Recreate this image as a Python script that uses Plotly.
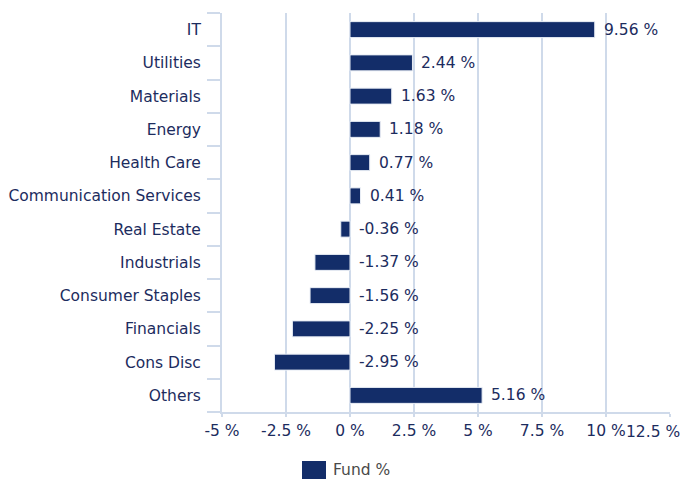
import plotly.graph_objects as go

categories = ["IT", "Utilities", "Materials", "Energy", "Health Care",
              "Communication Services", "Real Estate", "Industrials",
              "Consumer Staples", "Financials", "Cons Disc", "Others"]
fund_pct = [9.56, 2.44, 1.63, 1.18, 0.77, 0.41, -0.36, -1.37, -1.56, -2.25, -2.95, 5.16]
x_tick_vals = [-5, -2.5, 0, 2.5, 5, 7.5, 10, 12.5]
x_tick_text = ["-5 %", "-2.5 %", "0 %", "2.5 %", "5 %", "7.5 %", "10 %", "12.5 %"]
series_name = "Fund %"

BAR = "#132d69"
TXT = "#1c2c5e"
GRID = "#cfdaea"
FONT = "DejaVu Sans, Verdana, sans-serif"
FS = 15.5

# page body has an 8px default margin; compensate so plot area lands at 222..670 x 13..412
OFF = 8
W, H = 697 - OFF, 487 - OFF
L, R, T, B = 222 - OFF, 27, 13 - OFF, 75
PW, PH = W - L - R, H - T - B

fig = go.Figure()
fig.add_trace(go.Bar(
    y=categories, x=fund_pct, orientation="h", name=series_name,
    marker=dict(color=BAR, line=dict(color="#e8edf5", width=1)),
    width=0.48, showlegend=False, hoverinfo="skip",
))

for c, v in zip(categories, fund_pct):
    fig.add_annotation(x=max(v, 0), y=c, xref="x", yref="y", text=f"{v:.2f} %",
                       showarrow=False, xanchor="left", yanchor="middle", xshift=7,
                       font=dict(color=TXT, size=FS, family=FONT))

# last x tick label justified inside the page (like the reference)
fig.add_annotation(x=x_tick_vals[-1], xref="x", yref="paper", y=0, yshift=-9,
                   text=x_tick_text[-1], showarrow=False, xanchor="right", yanchor="top",
                   xshift=12, font=dict(color=TXT, size=FS, family=FONT))

# legend (drawn)
fig.add_shape(type="rect", xref="paper", yref="paper",
              x0=(302 - 222) / PW, x1=(326 - 222) / PW,
              y0=-(479 - 412) / PH, y1=-(461 - 412) / PH,
              fillcolor=BAR, line=dict(width=0))
fig.add_annotation(xref="paper", yref="paper", x=(331 - 222) / PW, y=-(470 - 412) / PH,
                   text=series_name, showarrow=False, xanchor="left", yanchor="middle",
                   font=dict(size=FS, color="#4a4a4a", family=FONT))

fig.update_layout(
    width=W, height=H,
    margin=dict(l=L, r=R, t=T, b=B, autoexpand=False),
    paper_bgcolor="white", plot_bgcolor="white",
    font=dict(family=FONT, size=FS, color=TXT),
    showlegend=False,
    xaxis=dict(range=[-5, 12.5], tickvals=x_tick_vals,
               ticktext=x_tick_text[:-1] + [""],
               showgrid=True, gridcolor=GRID, gridwidth=2, zeroline=False,
               showline=True, linecolor=GRID, linewidth=2, automargin=False,
               ticks="outside", ticklen=3, tickcolor=GRID, tickwidth=2,
               tickfont=dict(size=FS, color=TXT)),
    yaxis=dict(categoryorder="array", categoryarray=categories[::-1],
               showgrid=False, zeroline=False, showline=True, linecolor=GRID, linewidth=2,
               automargin=False,
               ticks="outside", tickson="boundaries", ticklen=13, tickcolor=GRID, tickwidth=2,
               tickfont=dict(size=FS, color=TXT), ticklabelstandoff=16),
)
fig.write_html("out.html")
